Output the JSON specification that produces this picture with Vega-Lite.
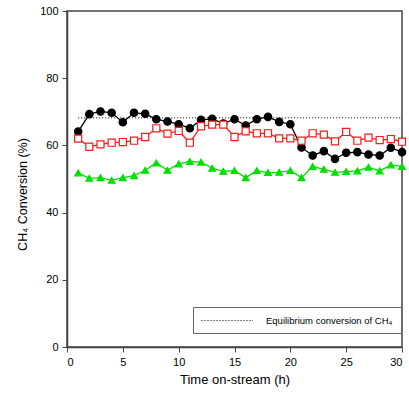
{
  "$schema": "https://vega.github.io/schema/vega-lite/v6.json",
  "width": 335,
  "height": 336,
  "autosize": "none",
  "padding": {"left": 67, "top": 11, "right": 7, "bottom": 49},
  "background": "white",
  "config": {
    "font": "Liberation Sans",
    "view": {"stroke": "#444", "strokeWidth": 1.5},
    "axis": {"grid": false, "domainColor": "#444", "domainWidth": 1.5, "tickColor": "#444", "tickSize": 5, "labelFont": "Liberation Sans", "labelFontSize": 11, "labelColor": "#000", "titleFont": "Liberation Sans", "titleFontWeight": "normal", "titleColor": "#000", "labelPadding": 4}
  },
  "datasets": {
    "conv": [
      {"h": 1, "s": "A", "v": 64.1}, {"h": 2, "s": "A", "v": 69.3}, {"h": 3, "s": "A", "v": 70.1}, {"h": 4, "s": "A", "v": 69.7}, {"h": 5, "s": "A", "v": 66.9},
      {"h": 6, "s": "A", "v": 69.7}, {"h": 7, "s": "A", "v": 69.4}, {"h": 8, "s": "A", "v": 67.8}, {"h": 9, "s": "A", "v": 67.1}, {"h": 10, "s": "A", "v": 66.3},
      {"h": 11, "s": "A", "v": 65.1}, {"h": 12, "s": "A", "v": 67.6}, {"h": 13, "s": "A", "v": 67.9}, {"h": 14, "s": "A", "v": 66.5}, {"h": 15, "s": "A", "v": 67.8},
      {"h": 16, "s": "A", "v": 65.9}, {"h": 17, "s": "A", "v": 67.8}, {"h": 18, "s": "A", "v": 68.5}, {"h": 19, "s": "A", "v": 67.0}, {"h": 20, "s": "A", "v": 66.3},
      {"h": 21, "s": "A", "v": 59.4}, {"h": 22, "s": "A", "v": 57.0}, {"h": 23, "s": "A", "v": 58.3}, {"h": 24, "s": "A", "v": 56.0}, {"h": 25, "s": "A", "v": 57.8},
      {"h": 26, "s": "A", "v": 58.0}, {"h": 27, "s": "A", "v": 57.3}, {"h": 28, "s": "A", "v": 57.0}, {"h": 29, "s": "A", "v": 59.3}, {"h": 30, "s": "A", "v": 58.0},
      {"h": 1, "s": "B", "v": 62.0}, {"h": 2, "s": "B", "v": 59.6}, {"h": 3, "s": "B", "v": 60.3}, {"h": 4, "s": "B", "v": 60.8}, {"h": 5, "s": "B", "v": 61.0},
      {"h": 6, "s": "B", "v": 61.4}, {"h": 7, "s": "B", "v": 62.5}, {"h": 8, "s": "B", "v": 65.1}, {"h": 9, "s": "B", "v": 63.5}, {"h": 10, "s": "B", "v": 64.3},
      {"h": 11, "s": "B", "v": 60.8}, {"h": 12, "s": "B", "v": 65.7}, {"h": 13, "s": "B", "v": 66.2}, {"h": 14, "s": "B", "v": 66.2}, {"h": 15, "s": "B", "v": 62.5},
      {"h": 16, "s": "B", "v": 64.2}, {"h": 17, "s": "B", "v": 63.6}, {"h": 18, "s": "B", "v": 63.6}, {"h": 19, "s": "B", "v": 62.1}, {"h": 20, "s": "B", "v": 62.1},
      {"h": 21, "s": "B", "v": 61.4}, {"h": 22, "s": "B", "v": 63.6}, {"h": 23, "s": "B", "v": 63.2}, {"h": 24, "s": "B", "v": 61.2}, {"h": 25, "s": "B", "v": 64.0},
      {"h": 26, "s": "B", "v": 61.4}, {"h": 27, "s": "B", "v": 62.3}, {"h": 28, "s": "B", "v": 61.6}, {"h": 29, "s": "B", "v": 61.9}, {"h": 30, "s": "B", "v": 61.1},
      {"h": 1, "s": "C", "v": 51.8}, {"h": 2, "s": "C", "v": 50.2}, {"h": 3, "s": "C", "v": 50.4}, {"h": 4, "s": "C", "v": 49.6}, {"h": 5, "s": "C", "v": 50.4},
      {"h": 6, "s": "C", "v": 51.0}, {"h": 7, "s": "C", "v": 52.6}, {"h": 8, "s": "C", "v": 54.8}, {"h": 9, "s": "C", "v": 52.6}, {"h": 10, "s": "C", "v": 54.5},
      {"h": 11, "s": "C", "v": 55.2}, {"h": 12, "s": "C", "v": 55.0}, {"h": 13, "s": "C", "v": 53.2}, {"h": 14, "s": "C", "v": 52.3}, {"h": 15, "s": "C", "v": 52.5},
      {"h": 16, "s": "C", "v": 50.4}, {"h": 17, "s": "C", "v": 52.5}, {"h": 18, "s": "C", "v": 51.9}, {"h": 19, "s": "C", "v": 52.0}, {"h": 20, "s": "C", "v": 52.5},
      {"h": 21, "s": "C", "v": 50.4}, {"h": 22, "s": "C", "v": 53.7}, {"h": 23, "s": "C", "v": 52.9}, {"h": 24, "s": "C", "v": 52.0}, {"h": 25, "s": "C", "v": 52.2},
      {"h": 26, "s": "C", "v": 52.4}, {"h": 27, "s": "C", "v": 53.5}, {"h": 28, "s": "C", "v": 52.4}, {"h": 29, "s": "C", "v": 54.2}, {"h": 30, "s": "C", "v": 53.7}
    ],
    "eq": [
      {"h1": 1, "h2": 30, "v": 68.2, "label": "Equilibrium conversion of CH₄"}
    ]
  },
  "layer": [
    {
      "data": {"name": "eq"},
      "mark": {"type": "rule", "color": "#000", "strokeWidth": 1},
      "encoding": {
        "x": {"field": "h1", "type": "quantitative", "scale": {"domain": [0, 30], "nice": false}, "axis": {"values": [0, 5, 10, 15, 20, 25, 30], "title": "Time on-stream (h)", "titleFontSize": 13, "titlePadding": 6}},
        "x2": {"field": "h2"},
        "y": {"field": "v", "type": "quantitative", "scale": {"domain": [0, 100], "nice": false}, "axis": {"values": [0, 20, 40, 60, 80, 100], "title": "CH₄ Conversion (%)", "titleFontSize": 12.5, "titlePadding": 10, "titleY": 183}},
        "strokeDash": {
          "field": "label", "type": "nominal",
          "scale": {"range": [[1, 2]]},
          "legend": {
            "title": null, "orient": "none", "legendX": 126, "legendY": 296,
            "symbolType": "M-1,0H9.3", "symbolStrokeColor": "#000", "symbolFillColor": "transparent", "symbolStrokeWidth": 1, "symbolSize": 100,
            "labelFont": "Liberation Sans", "labelFontSize": 9.5, "labelColor": "#000", "labelOffset": 54,
            "strokeColor": "#666", "fillColor": "white", "padding": 8
          }
        }
      }
    },
    {
      "data": {"name": "conv"},
      "mark": {"type": "line", "strokeWidth": 1.3},
      "encoding": {
        "x": {"field": "h", "type": "quantitative"},
        "y": {"field": "v", "type": "quantitative"},
        "detail": {"field": "s"},
        "color": {"field": "s", "type": "nominal", "scale": {"domain": ["A", "B", "C"], "range": ["#000000", "#ff1a1a", "#00e000"]}, "legend": null}
      }
    },
    {
      "data": {"name": "conv"},
      "mark": {"type": "point", "filled": false, "strokeWidth": 1.2, "opacity": 1},
      "encoding": {
        "x": {"field": "h", "type": "quantitative"},
        "y": {"field": "v", "type": "quantitative"},
        "shape": {"field": "s", "type": "nominal", "scale": {"domain": ["A", "B", "C"], "range": ["circle", "square", "triangle-up"]}, "legend": null},
        "size": {"field": "s", "type": "nominal", "scale": {"domain": ["A", "B", "C"], "range": [55, 45, 45]}, "legend": null},
        "fill": {"field": "s", "type": "nominal", "scale": {"domain": ["A", "B", "C"], "range": ["#000000", "#ffffff", "#00e000"]}, "legend": null},
        "stroke": {"field": "s", "type": "nominal", "scale": {"domain": ["A", "B", "C"], "range": ["#000000", "#ff1a1a", "#00e000"]}, "legend": null}
      }
    }
  ]
}
